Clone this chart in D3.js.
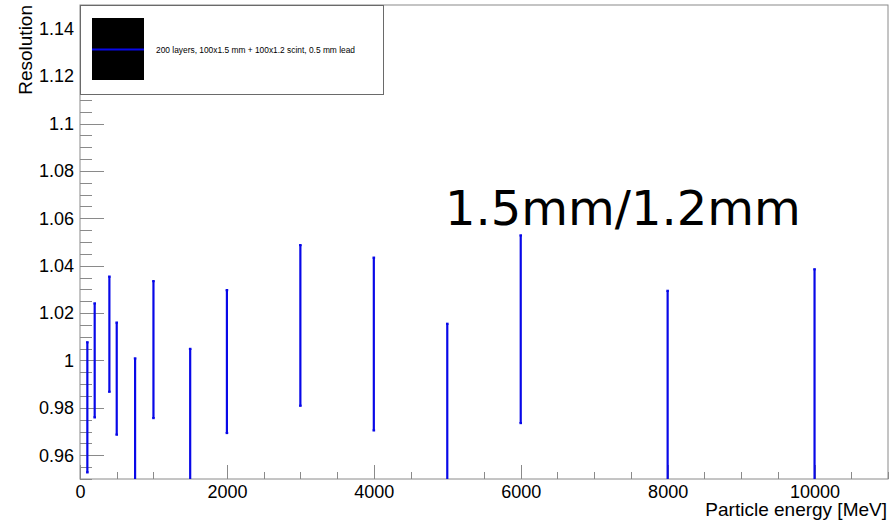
<!DOCTYPE html>
<html>
<head>
<meta charset="utf-8">
<script src="https://cdn.jsdelivr.net/npm/d3@7"></script>
<style>
  html, body { margin: 0; padding: 0; background: #fff; }
  svg { display: block; }
</style>
</head>
<body>
<svg id="chart" width="892" height="526"></svg>
<script>
// ---- data ----
const energies = [100, 200, 400, 500, 750, 1000, 1500, 2000, 3000, 4000, 5000, 6000, 8000, 10000];
const resHigh  = [1.0077, 1.0241, 1.0354, 1.0160, 1.0009, 1.0335, 1.0049, 1.0297, 1.0487, 1.0434, 1.0155, 1.0528, 1.0294, 1.0385];
const resLow   = [0.9528, 0.9760, 0.9868, 0.9687, 0.9300, 0.9757, 0.9300, 0.9694, 0.9809, 0.9705, 0.9300, 0.9736, 0.9300, 0.9300];
const xTicks = [0, 2000, 4000, 6000, 8000, 10000];
const yTicks = [0.96, 0.98, 1.0, 1.02, 1.04, 1.06, 1.08, 1.1, 1.12, 1.14];
const legendLabel = "200 layers, 100x1.5 mm + 100x1.2 scint, 0.5 mm lead";
const annotation = "1.5mm/1.2mm";
const xTitle = "Particle energy [MeV]";
const yTitle = "Resolution";

// ---- layout ----
const L = 80, R = 888, T = 5, B = 479;
const svg = d3.select("#chart");
const x = d3.scaleLinear().domain([0, 11000]).range([L, R]);
const y = d3.scaleLinear().domain([0.95, 1.15]).range([B, T]);
const axisColor = "#8a8a8a";
const font = "'Liberation Sans', Arial, Helvetica, sans-serif";
const blue = "#0808e8";

svg.append("defs").append("clipPath").attr("id", "frameClip")
  .append("rect").attr("x", L).attr("y", T).attr("width", R - L).attr("height", B - T);

// frame
svg.append("rect").attr("x", L).attr("y", T).attr("width", R - L).attr("height", B - T)
  .attr("fill", "none").attr("stroke", axisColor).attr("stroke-width", 1);

// y minor + major ticks
const yMinor = d3.range(0, 41).map(i => 0.95 + i * 0.005).filter(v => v <= 1.1501);
const gTicks = svg.append("g").attr("stroke", axisColor).attr("stroke-width", 1);
yMinor.forEach(v => {
  const isMajor = yTicks.some(t => Math.abs(t - v) < 1e-6);
  gTicks.append("line")
    .attr("x1", L).attr("x2", L + (isMajor ? 24 : 12))
    .attr("y1", Math.round(y(v)) + 0.5).attr("y2", Math.round(y(v)) + 0.5);
});
// x minor + major ticks
const xMinor = d3.range(0, 23).map(i => i * 500).filter(v => v <= 11000);
xMinor.forEach(v => {
  const isMajor = v % 2000 === 0;
  gTicks.append("line")
    .attr("x1", Math.round(x(v)) + 0.5).attr("x2", Math.round(x(v)) + 0.5)
    .attr("y1", B).attr("y2", B - (isMajor ? 14 : 7));
});

// tick labels via d3 axes (without lines)
const yAxis = d3.axisLeft(y).tickValues(yTicks).tickSize(0).tickPadding(6)
  .tickFormat(d => d3.format("")(+d.toFixed(2)));
const gy = svg.append("g").attr("transform", `translate(${L},0)`).call(yAxis);
gy.select(".domain").remove();
gy.selectAll("text").attr("font-family", font).attr("font-size", 18).attr("fill", "#000");

const xAxis = d3.axisBottom(x).tickValues(xTicks).tickSize(0).tickPadding(6).tickFormat(d3.format("d"));
const gx = svg.append("g").attr("transform", `translate(0,${B})`).call(xAxis);
gx.select(".domain").remove();
gx.selectAll("text").attr("font-family", font).attr("font-size", 18).attr("fill", "#000");

// axis titles
svg.append("text").attr("x", R - 1).attr("y", 516).attr("text-anchor", "end")
  .attr("font-family", font).attr("font-size", 19).text(xTitle);
svg.append("text").attr("transform", `translate(32,${T}) rotate(-90)`).attr("text-anchor", "end")
  .attr("font-family", font).attr("font-size", 19).text(yTitle);

// error bars
const data = energies.map((e, i) => ({ e, lo: resLow[i], hi: resHigh[i] }));
const gBars = svg.append("g").attr("clip-path", "url(#frameClip)")
  .attr("stroke", blue).attr("stroke-width", 2.2).attr("fill", "none");
data.forEach(d => {
  const cx = x(d.e);
  gBars.append("line").attr("x1", cx).attr("x2", cx).attr("y1", y(d.lo)).attr("y2", y(d.hi));
  gBars.append("line").attr("x1", cx - 1.3).attr("x2", cx + 1.3).attr("y1", y(d.hi)).attr("y2", y(d.hi));
  gBars.append("line").attr("x1", cx - 1.3).attr("x2", cx + 1.3).attr("y1", y(d.lo)).attr("y2", y(d.lo));
});

// legend
svg.append("rect").attr("x", L + 0.5).attr("y", T + 0.5).attr("width", 303).attr("height", 89)
  .attr("fill", "#fff").attr("stroke", "#6a6a6a").attr("stroke-width", 1);
svg.append("rect").attr("x", 92).attr("y", 18).attr("width", 52).attr("height", 62).attr("fill", "#000");
svg.append("line").attr("x1", 92).attr("x2", 144).attr("y1", 49.5).attr("y2", 49.5)
  .attr("stroke", blue).attr("stroke-width", 2);
svg.append("text").attr("x", 156).attr("y", 52.5).attr("font-family", font).attr("font-size", 8.4)
  .text(legendLabel);

// annotation
svg.append("text").attr("x", 445).attr("y", 225).attr("font-family", "'DejaVu Sans', sans-serif")
  .attr("font-size", 48).text(annotation);
</script>
</body>
</html>
